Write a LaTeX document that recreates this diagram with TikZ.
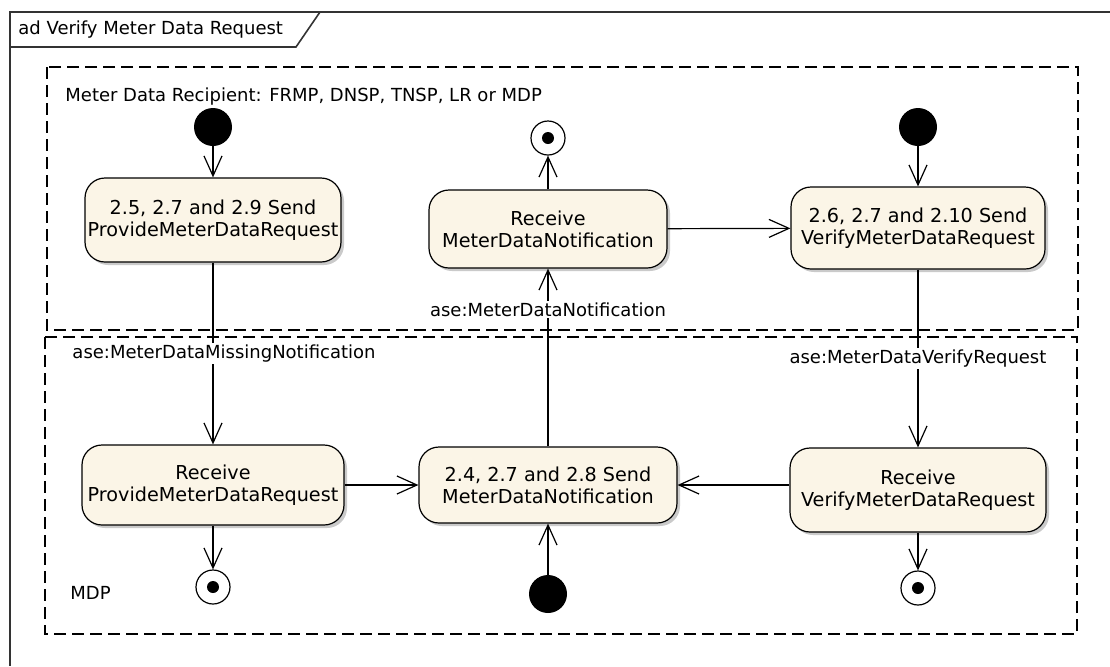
\documentclass[tikz,border=0pt]{standalone}
\usepackage{fontspec}
\setmainfont{DejaVu Sans}
\usetikzlibrary{arrows.meta,shadows}
\definecolor{actfill}{RGB}{251,245,231}
\tikzset{
  act/.style={draw, line width=0.6pt, rounded corners=10pt, fill=actfill, align=center,
    minimum width=124pt, minimum height=40pt, inner sep=0pt, font=\fontsize{9.6}{11}\selectfont,
    drop shadow={shadow xshift=1.5pt, shadow yshift=-1.5pt, opacity=0.35, fill=black!60}},
  init/.style={circle, fill=black, minimum size=19pt, inner sep=0pt},
  final/.style={circle, draw, line width=0.6pt, fill=white, minimum size=17pt, inner sep=0pt},
  flow/.style={-{Straight Barb[length=10pt,width=9pt]}, line width=0.6pt},
  lane/.style={dash pattern=on 6pt off 3pt, line width=0.7pt},
  msg/.style={fill=white, inner sep=1pt},
  note/.style={anchor=west, inner sep=0pt},
}
\begin{document}
\begin{tikzpicture}[x=0.5pt, y=-0.5pt, font=\fontsize{9}{11}\selectfont]
            \useasboundingbox (0,0) rectangle (1110,666);
            % frame
            \draw[line width=0.8pt, black!80] (1110,12) -- (10,12) -- (10,666);
            \draw[line width=0.8pt, black!80] (10,47) -- (296,47) -- (320,12);
            \draw (18,30) node[note](frametitle) {ad Verify Meter Data Request};
            % partitions
            \draw[lane] (47,67) rectangle (1078,330);
            \draw[lane] (45,337) rectangle (1077,634);
            \draw (65,97) node[note](recipient) {Meter Data Recipient: FRMP, DNSP, TNSP, LR or MDP};
            \draw (70,593) node[note](mdp) {MDP};
            % actions
            \draw (213,220) node[act, minimum width=128pt, minimum height=42pt](sendPMDR) {2.5, 2.7 and 2.9 Send\\ProvideMeterDataRequest};
            \draw (548,229) node[act, minimum width=119pt, minimum height=39pt](recvMDN) {Receive\\MeterDataNotification};
            \draw (918,228) node[act, minimum width=127pt, minimum height=41pt](sendVMDR) {2.6, 2.7 and 2.10 Send\\VerifyMeterDataRequest};
            \draw (213,485) node[act, minimum width=131pt, minimum height=40pt](recvPMDR) {Receive\\ProvideMeterDataRequest};
            \draw (548,485) node[act, minimum width=129pt, minimum height=38pt](sendMDN) {2.4, 2.7 and 2.8 Send\\MeterDataNotification};
            \draw (918,490) node[act, minimum width=128pt, minimum height=42pt](recvVMDR) {Receive\\VerifyMeterDataRequest};
            % start and end
            \draw (213,127) node[init](startA) {};
            \draw (918,127) node[init](startB) {};
            \draw (548,594) node[init](startC) {};
            \draw (548,138) node[final](endA) {};
            \draw (213,587) node[final](endB) {};
            \draw (918,588) node[final](endC) {};
            \foreach \e in {endA,endB,endC}
              \fill (\e.center) circle (3pt);
            % flows
            \draw[flow] (startA) -- (sendPMDR);
            \draw[flow] (sendPMDR) -- node[msg, xshift=5.5pt]{ase:MeterDataMissingNotification} (recvPMDR);
            \draw[flow] (recvPMDR) -- (sendMDN);
            \draw[flow] (recvPMDR) -- (endB);
            \draw[flow] (startC) -- (sendMDN);
            \draw[flow] (sendMDN) -- node[msg, pos=0.77]{ase:MeterDataNotification} (recvMDN);
            \draw[flow] (recvMDN) -- (endA);
            \draw[flow] (recvMDN) -- (sendVMDR);
            \draw[flow] (startB) -- (sendVMDR);
            \draw[flow] (sendVMDR) -- node[msg]{ase:MeterDataVerifyRequest} (recvVMDR);
            \draw[flow] (recvVMDR.west |- sendMDN.east) -- (sendMDN.east);
            \draw[flow] (recvVMDR) -- (endC);
        \end{tikzpicture}
\end{document}
